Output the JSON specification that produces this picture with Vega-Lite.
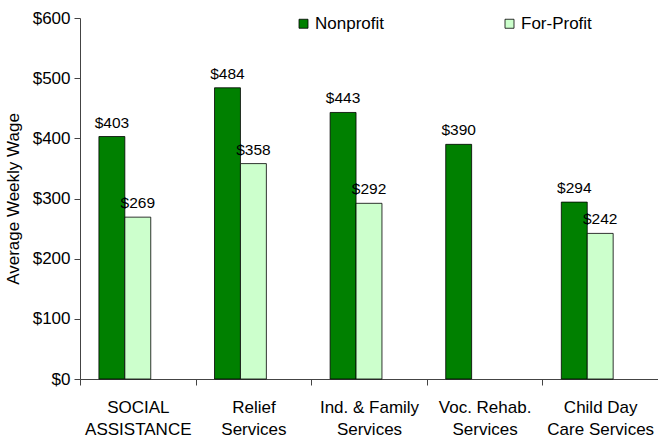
{
  "$schema": "https://vega.github.io/schema/vega-lite/v6.json",
  "width": 578,
  "height": 361,
  "autosize": "none",
  "padding": {"left": 80, "top": 18, "right": 0, "bottom": 58},
  "background": "white",
  "config": {
    "font": "Liberation Sans",
    "view": {"stroke": null}
  },
  "data": {
    "values": [
      {"category": "SOCIAL|ASSISTANCE", "type": "Nonprofit", "wage": 403},
      {"category": "SOCIAL|ASSISTANCE", "type": "For-Profit", "wage": 269},
      {"category": "Relief|Services", "type": "Nonprofit", "wage": 484},
      {"category": "Relief|Services", "type": "For-Profit", "wage": 358},
      {"category": "Ind. & Family|Services", "type": "Nonprofit", "wage": 443},
      {"category": "Ind. & Family|Services", "type": "For-Profit", "wage": 292},
      {"category": "Voc. Rehab.|Services", "type": "Nonprofit", "wage": 390},
      {"category": "Child Day|Care Services", "type": "Nonprofit", "wage": 294},
      {"category": "Child Day|Care Services", "type": "For-Profit", "wage": 242}
    ]
  },
  "encoding": {
    "x": {
      "field": "category",
      "type": "nominal",
      "sort": null,
      "scale": {"paddingInner": 0, "paddingOuter": 0},
      "axis": {
        "title": null,
        "labelAngle": 0,
        "labelExpr": "split(datum.label, '|')",
        "labelFont": "Liberation Sans",
        "labelFontSize": 17,
        "labelColor": "black",
        "labelPadding": 14,
        "labelLineHeight": 22,
        "tickBand": "extent",
        "tickSize": 6,
        "tickColor": "#444",
        "domainColor": "#444",
        "labelLimit": 200
      }
    },
    "xOffset": {
      "field": "type",
      "type": "nominal",
      "scale": {"domain": ["Nonprofit", "For-Profit", "_"], "paddingInner": 0, "paddingOuter": 0.73}
    },
    "y": {
      "field": "wage",
      "type": "quantitative",
      "scale": {"domain": [0, 600]},
      "axis": {
        "title": "Average Weekly Wage",
        "titleFont": "Liberation Sans",
        "titleFontSize": 17,
        "titleFontWeight": "normal",
        "titleColor": "black",
        "titlePadding": 10,
        "values": [0, 100, 200, 300, 400, 500, 600],
        "labelExpr": "'$' + datum.value",
        "labelFontSize": 17,
        "labelColor": "black",
        "labelPadding": 4,
        "grid": false,
        "tickSize": 6,
        "tickColor": "#444",
        "domainColor": "#444"
      }
    }
  },
  "layer": [
    {
      "mark": {"type": "bar", "stroke": "black", "strokeWidth": 0.8},
      "encoding": {
        "color": {
          "field": "type",
          "type": "nominal",
          "scale": {"domain": ["Nonprofit", "For-Profit"], "range": ["#008000", "#CCFFCC"]},
          "legend": {
            "title": null,
            "orient": "none",
            "legendX": 215,
            "legendY": -3,
            "direction": "horizontal",
            "symbolType": "square",
            "symbolSize": 81,
            "symbolStrokeColor": "black",
            "symbolStrokeWidth": 0.8,
            "labelFontSize": 17,
            "labelColor": "black",
            "labelOffset": 3,
            "columnPadding": 117
          }
        }
      }
    },
    {
      "mark": {"type": "text", "dy": -14, "fontSize": 15.5, "color": "black"},
      "encoding": {
        "text": {"field": "wage", "type": "quantitative", "format": "$,.0f"}
      }
    }
  ]
}
